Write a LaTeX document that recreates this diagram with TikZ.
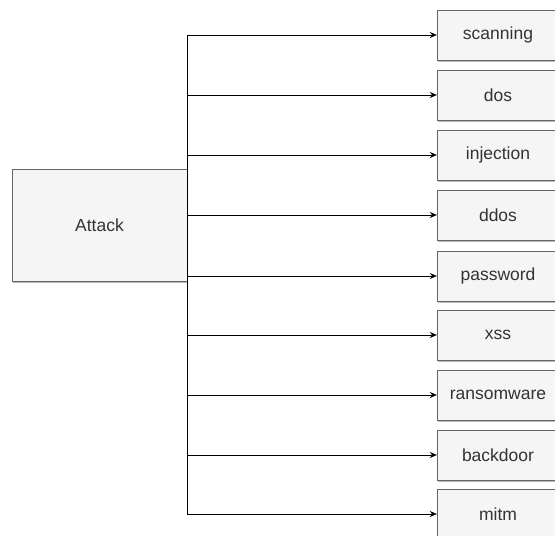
\documentclass[tikz,border=0pt]{standalone}
\usepackage{fontspec}
\setmainfont{Liberation Sans}
\usepackage[dvipsnames]{xcolor}
\usetikzlibrary{shapes.geometric, arrows, arrows.meta, shadows}
\definecolor{boxfill}{HTML}{F5F5F5}
\definecolor{boxline}{HTML}{666666}
\definecolor{boxtext}{HTML}{333333}
\tikzstyle{category} = [rectangle, minimum width=175pt, minimum height=112pt, inner sep=0pt, text centered, draw=boxline, fill=boxfill, text=boxtext, drop shadow={shadow xshift=1pt, shadow yshift=-1.5pt, fill=black!45, opacity=0.6}, font=\fontsize{17.5}{20}\selectfont]
\tikzstyle{kind} = [category, minimum width=122pt, minimum height=50pt]
\tikzstyle{arrow} = [semithick,-{Stealth[length=7pt,width=6pt]}]

\begin{document}
\begin{tikzpicture}[x=1pt, y=-1pt]
\useasboundingbox (0,0) rectangle (555,536);

\node at (99.5, 225) (attack) [category] {Attack};
\node at (498, 35) (scanning) [kind] {scanning};
\node at (498, 95) (dos) [kind] {dos};
\node at (498, 155) (injection) [kind] {injection};
\node at (498, 215) (ddos) [kind] {ddos};
\node at (498, 276) (password) [kind] {password};
\node at (498, 335) (xss) [kind] {xss};
\node at (498, 395) (ransomware) [kind] {ransomware};
\node at (498, 455) (backdoor) [kind] {backdoor};
\node at (498, 514) (mitm) [kind] {mitm};

% trunk
\draw [semithick] (attack.east |- scanning.west) -- (attack.east |- mitm.west);

\draw [arrow] (attack.east |- scanning.west) -- (scanning.west);
\draw [arrow] (attack.east |- dos.west) -- (dos.west);
\draw [arrow] (attack.east |- injection.west) -- (injection.west);
\draw [arrow] (attack.east |- ddos.west) -- (ddos.west);
\draw [arrow] (attack.east |- password.west) -- (password.west);
\draw [arrow] (attack.east |- xss.west) -- (xss.west);
\draw [arrow] (attack.east |- ransomware.west) -- (ransomware.west);
\draw [arrow] (attack.east |- backdoor.west) -- (backdoor.west);
\draw [arrow] (attack.east |- mitm.west) -- (mitm.west);

\end{tikzpicture}
\end{document}
